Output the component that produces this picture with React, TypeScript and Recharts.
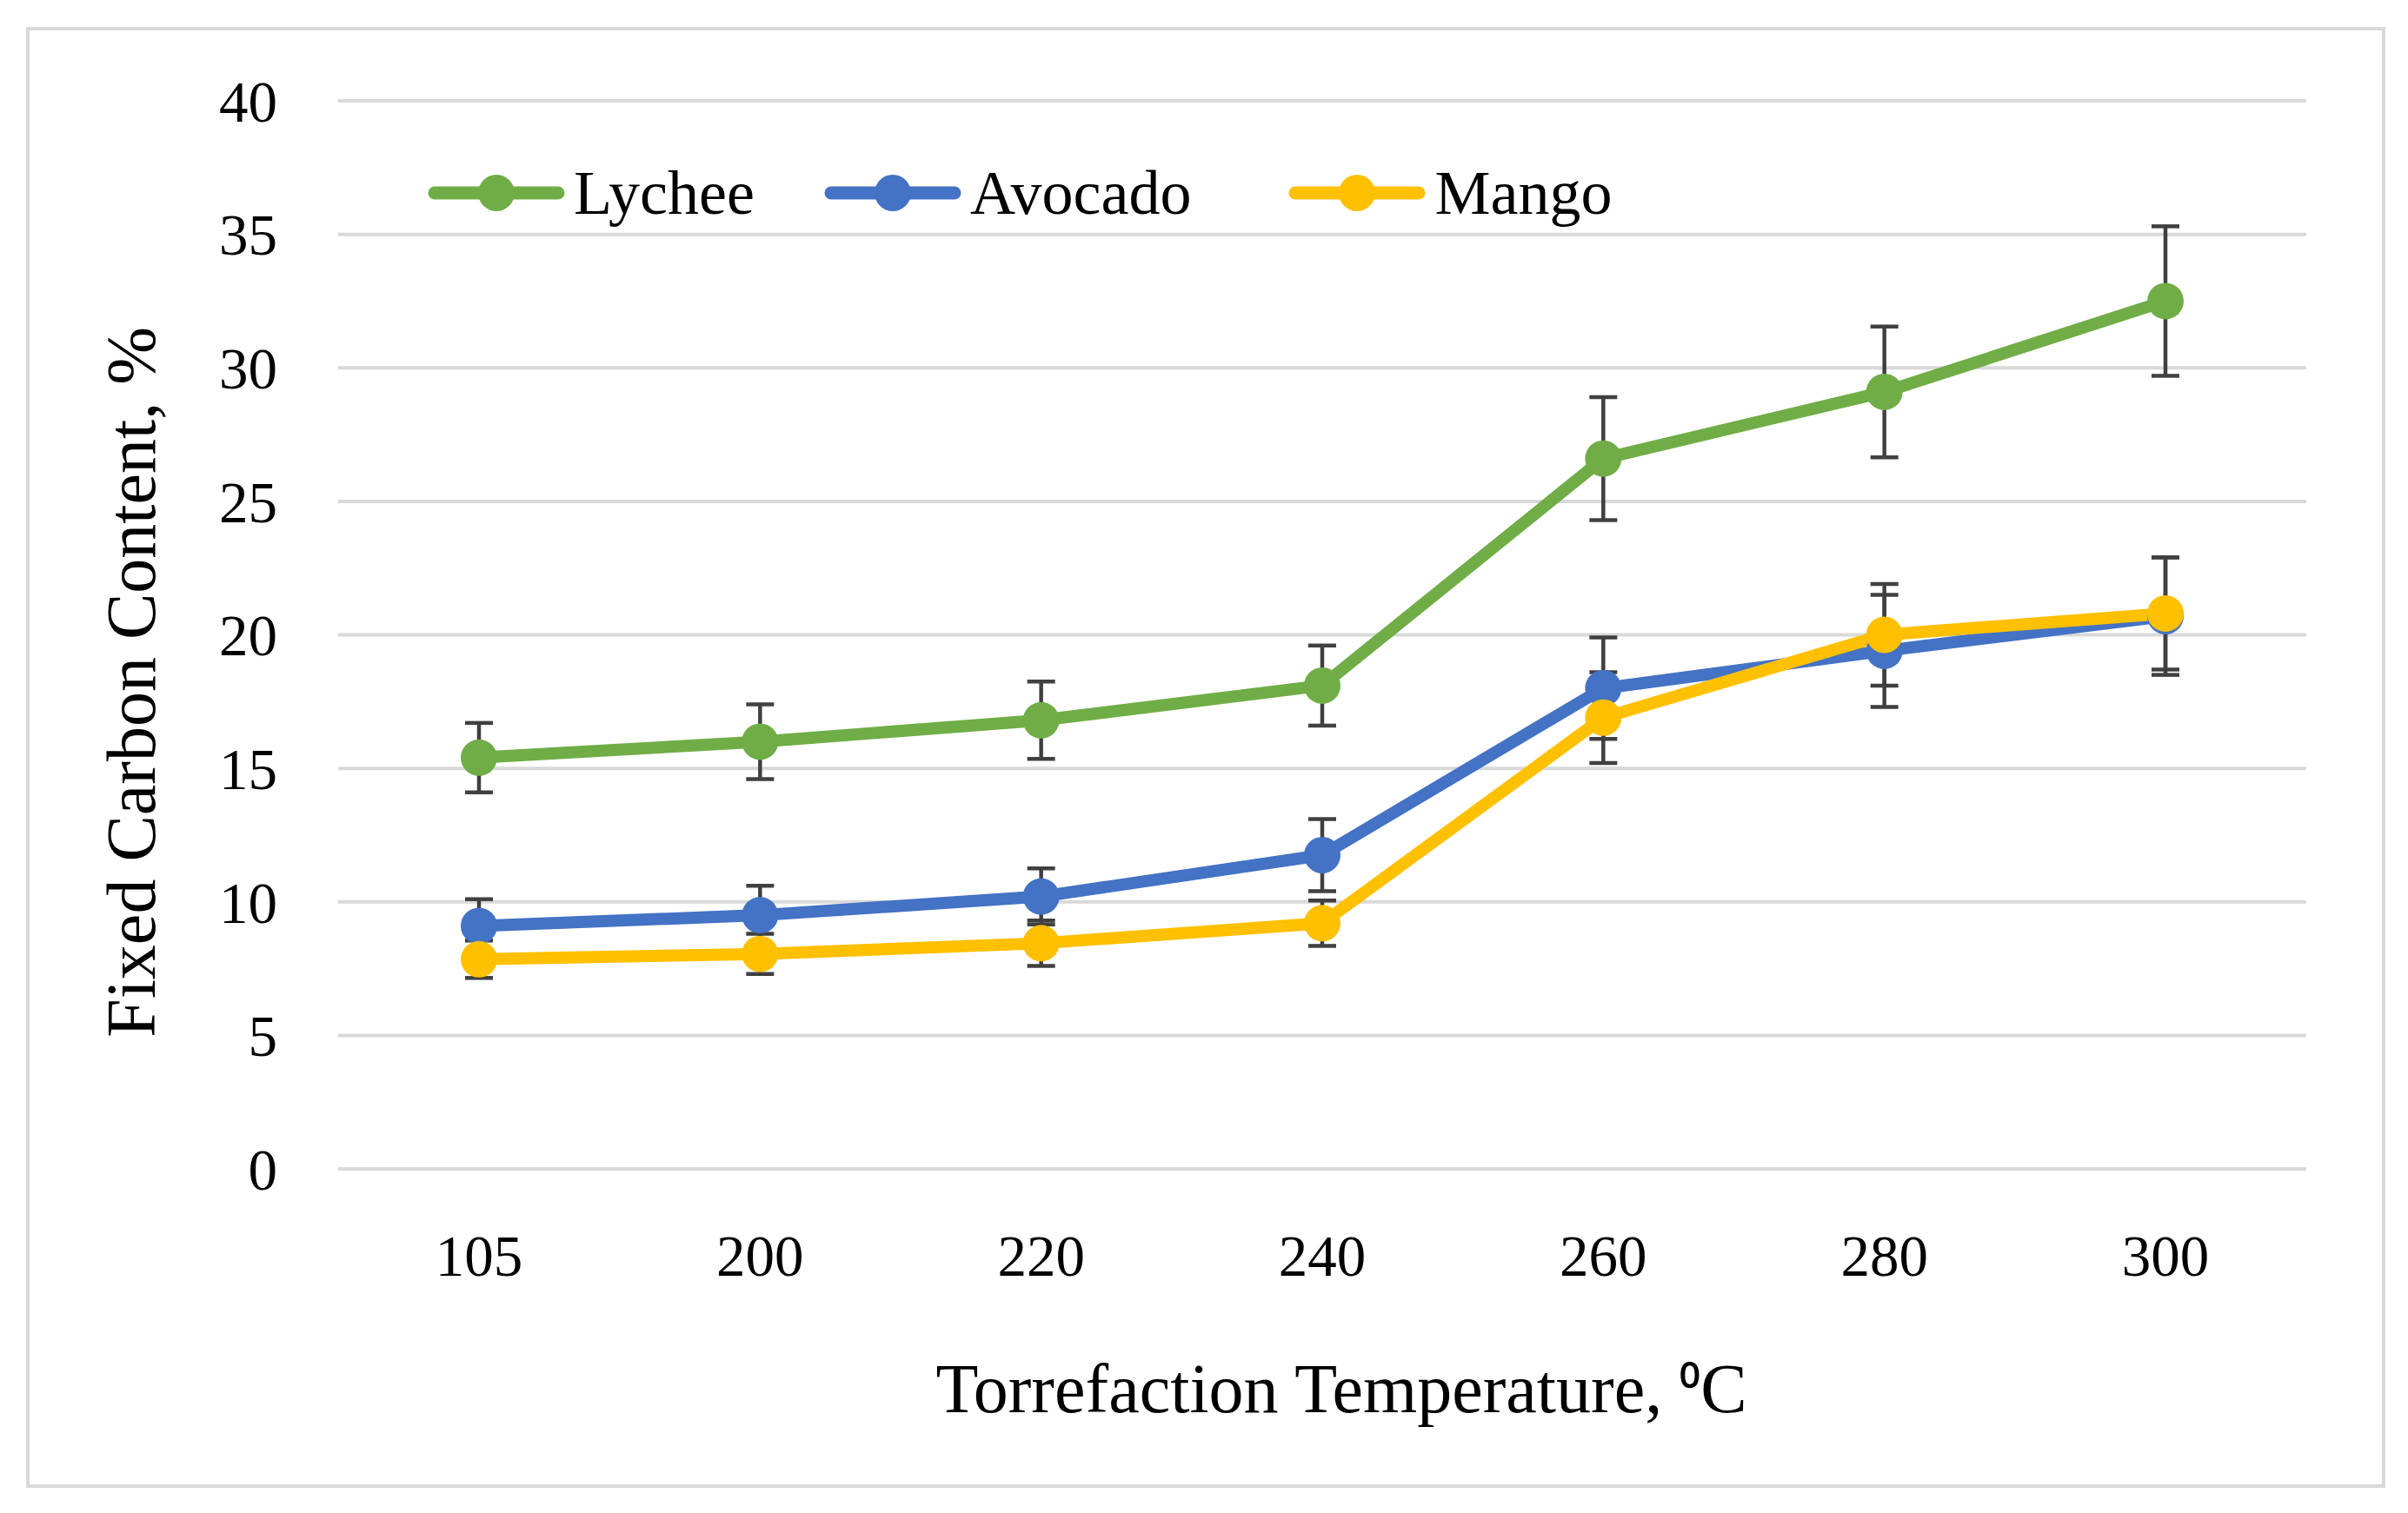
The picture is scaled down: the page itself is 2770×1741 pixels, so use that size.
import React from 'react';
import { LineChart, Line, XAxis, YAxis, CartesianGrid, ErrorBar, Legend } from 'recharts';

const temperatures = ['105', '200', '220', '240', '260', '280', '300'];
const seriesNames = ['Lychee', 'Avocado', 'Mango'];
const lychee = [15.4, 16.0, 16.8, 18.1, 26.6, 29.1, 32.5];
const lycheeErr = [1.3, 1.4, 1.45, 1.5, 2.3, 2.45, 2.8];
const avocado = [9.1, 9.5, 10.2, 11.75, 18.0, 19.4, 20.7];
const avocadoErr = [1.0, 1.1, 1.05, 1.35, 1.9, 2.1, 2.2];
const mango = [7.85, 8.05, 8.45, 9.2, 16.9, 20.0, 20.8];
const mangoErr = [0.7, 0.75, 0.85, 0.85, 1.7, 1.9, 2.1];
const yTicks = [0, 5, 10, 15, 20, 25, 30, 35, 40];

const xTitleMain = 'Torrefaction Temperature, ';
const xTitleSup = '⁰';
const xTitleUnit = 'C';
const yTitle = 'Fixed Carbon Content, %';

const data = temperatures.map((t, i) => ({
  temp: t,
  Lychee: lychee[i],
  lycheeErr: lycheeErr[i],
  Avocado: avocado[i],
  avocadoErr: avocadoErr[i],
  Mango: mango[i],
  mangoErr: mangoErr[i],
}));

const FONT = "'Palatino Linotype', 'Book Antiqua', Palatino, 'Liberation Serif', serif";
const GREEN = '#70AD47';
const BLUE = '#4472C4';
const YELLOW = '#FFC000';
const ERR = '#404040';

const renderLegend = (props: any) => {
  const payload = [...(props.payload || [])].sort(
    (a: any, b: any) => seriesNames.indexOf(a.value) - seriesNames.indexOf(b.value)
  );
  return (
    <div style={{ display: 'flex', alignItems: 'center' }}>
      {payload.map((entry: any, i: number) => (
        <div key={i} style={{ display: 'flex', alignItems: 'center', marginRight: i === 0 ? 80 : 112 }}>
          <svg width={158} height={46} style={{ display: 'block' }}>
            <line x1={8} y1={23} x2={150} y2={23} stroke={entry.color} strokeWidth={15} strokeLinecap="round" />
            <circle cx={79} cy={23} r={21} fill={entry.color} />
          </svg>
          <span style={{ fontFamily: FONT, fontSize: 72, color: '#000', marginLeft: 10, lineHeight: 1 }}>{entry.value}</span>
        </div>
      ))}
    </div>
  );
};

const YTitle = () => (
  <text
    transform="translate(178,785) rotate(-90)"
    textAnchor="middle"
    fontFamily={FONT}
    fontSize={80}
    fill="#000"
  >
    {yTitle}
  </text>
);

const XTitle = () => (
  <text x={1543} y={1625} textAnchor="middle" fontFamily={FONT} fontSize={80} fill="#000">
    {xTitleMain}
    <tspan fontSize={68}>{xTitleSup}</tspan>
    {xTitleUnit}
  </text>
);

export default function App() {
  return (
    <div style={{ position: 'absolute', left: 0, top: 0, width: 2770, height: 1741, background: '#fff' }}>
      <div
        style={{
          position: 'absolute',
          left: 30,
          top: 31,
          width: 2706,
          height: 1673,
          border: '4px solid #d9d9d9',
        }}
      />
      <LineChart
        width={2770}
        height={1741}
        data={data}
        margin={{ top: 116, right: 117, left: 189, bottom: 196 }}
      >
        <CartesianGrid horizontal vertical={false} stroke="#d9d9d9" strokeWidth={4} />
        <XAxis
          dataKey="temp"
          type="category"
          height={200}
          axisLine={false}
          tickLine={false}
          tickSize={0}
          tickMargin={75}
          padding={{ left: 162, right: 162 }}
          tick={{ fill: '#000', fontSize: 67, fontFamily: FONT }}
          label={{ content: () => <XTitle /> }}
        />
        <YAxis
          type="number"
          domain={[0, 40]}
          ticks={yTicks}
          width={200}
          axisLine={false}
          tickLine={false}
          tickSize={0}
          tickMargin={70}
          tick={{ fill: '#000', fontSize: 67, fontFamily: FONT }}
          label={{ content: () => <YTitle /> }}
        />
        <Legend
          layout="vertical"
          align="center"
          verticalAlign="middle"
          content={renderLegend}
          wrapperStyle={{ position: 'absolute', left: 492, top: 186, width: 'auto', height: 'auto' }}
        />
        <Line
          type="linear"
          dataKey="Lychee"
          name="Lychee"
          stroke={GREEN}
          strokeWidth={14}
          dot={{ r: 21, fill: GREEN, stroke: GREEN, strokeWidth: 0 }}
          isAnimationActive={false}
        >
          <ErrorBar dataKey="lycheeErr" direction="y" width={16} stroke={ERR} strokeWidth={4.5} isAnimationActive={false} />
        </Line>
        <Line
          type="linear"
          dataKey="Avocado"
          name="Avocado"
          stroke={BLUE}
          strokeWidth={14}
          dot={{ r: 21, fill: BLUE, stroke: BLUE, strokeWidth: 0 }}
          isAnimationActive={false}
        >
          <ErrorBar dataKey="avocadoErr" direction="y" width={16} stroke={ERR} strokeWidth={4.5} isAnimationActive={false} />
        </Line>
        <Line
          type="linear"
          dataKey="Mango"
          name="Mango"
          stroke={YELLOW}
          strokeWidth={14}
          dot={{ r: 21, fill: YELLOW, stroke: YELLOW, strokeWidth: 0 }}
          isAnimationActive={false}
        >
          <ErrorBar dataKey="mangoErr" direction="y" width={16} stroke={ERR} strokeWidth={4.5} isAnimationActive={false} />
        </Line>
      </LineChart>
    </div>
  );
}
